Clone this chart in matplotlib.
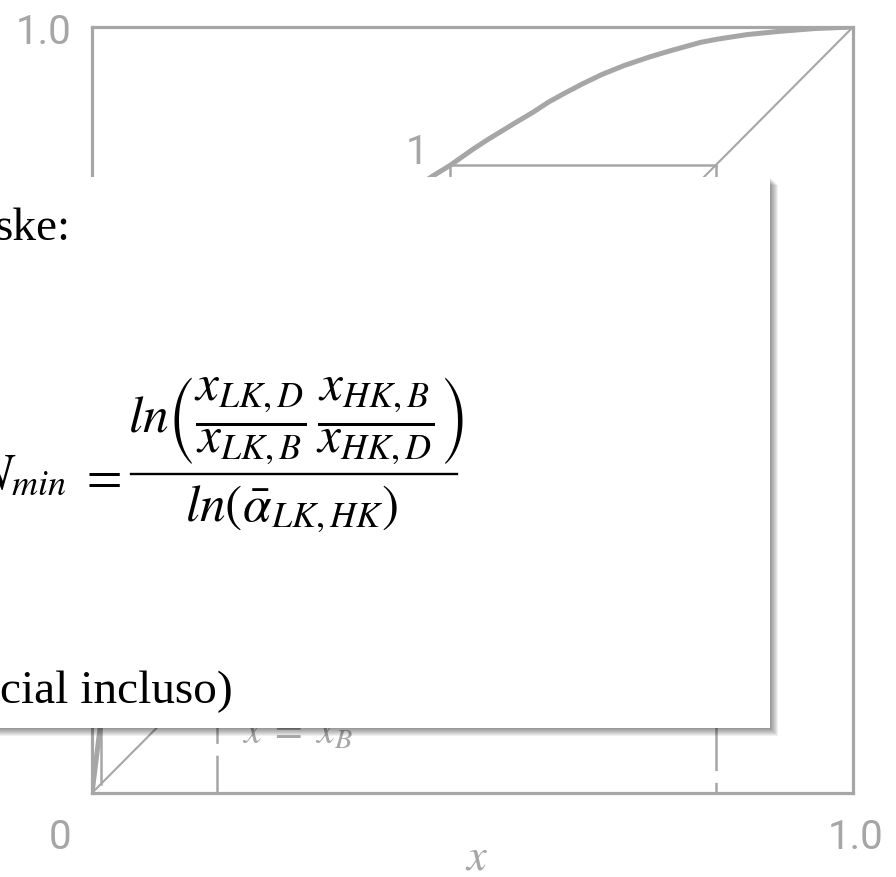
import matplotlib
matplotlib.use("Agg")
import matplotlib.pyplot as plt
from matplotlib.patches import Rectangle
from matplotlib.lines import Line2D
from matplotlib.transforms import ScaledTranslation

# equilibrium curve
eq_x = [0.0, 0.0105, 0.02, 0.035, 0.06, 0.10, 0.16, 0.25, 0.35, 0.447, 0.47,
        0.50, 0.52, 0.558, 0.58, 0.60, 0.62, 0.645, 0.67, 0.70, 0.733, 0.76,
        0.80, 0.821, 0.86, 0.90, 0.95, 1.0]
eq_y = [0.0, 0.084, 0.14, 0.22, 0.33, 0.46, 0.565, 0.66, 0.74, 0.805, 0.819,
        0.84, 0.853, 0.876, 0.889, 0.902, 0.913, 0.926, 0.938, 0.95, 0.961, 0.969,
        0.98, 0.984, 0.99, 0.994, 0.998, 1.0]

# total reflux staircase corners
step_x = [0.82, 0.47, 0.47, 0.10, 0.10, 0.012, 0.012]
step_y = [0.82, 0.82, 0.47, 0.47, 0.10, 0.10, 0.012]

x_D = 0.82
x_B = 0.164
tick_vals = [0.0, 1.0]
tick_labels = ["0", "1.0"]
stage_label = "1"

GRAY = "#a6a6a6"
W, H = 896, 878

plt.rcParams["lines.scale_dashes"] = False
plt.rcParams["mathtext.fontset"] = "stix"

fig = plt.figure(figsize=(W / 100, H / 100), dpi=100)
fig.patch.set_facecolor("white")


def fx(px):
    return px / W


def fy(py):
    return 1 - py / H


ax = fig.add_axes([fx(92), fy(794), fx(853) - fx(92), fy(28) - fy(794)])
ax.set_xlim(0, 1)
ax.set_ylim(0, 1)
for s in ax.spines.values():
    s.set_color(GRAY)
    s.set_linewidth(2.3)

ax.plot([0, 1], [0, 1], color=GRAY, lw=1.5, solid_capstyle="butt")
ax.plot(eq_x, eq_y, color=GRAY, lw=3.6, solid_capstyle="round", solid_joinstyle="round")
ax.plot(step_x, step_y, color=GRAY, lw=1.8)

dash = (0, (55, 8.5))
ax.plot([x_D, x_D], [x_D, 0], color=GRAY, lw=1.8, linestyle=dash)
ax.plot([x_B, x_B], [x_B, 0], color=GRAY, lw=1.8, linestyle=dash)

tick_font = dict(family=["Roboto", "DejaVu Sans"], size=29, color=GRAY)
ax.set_xticks(tick_vals)
ax.set_xticklabels(tick_labels, **tick_font)
ax.set_yticks([tick_vals[1]])
ax.set_yticklabels([tick_labels[1]], **tick_font)
ax.tick_params(length=0, pad=17)
ax.tick_params(axis="y", pad=15)
lab0 = ax.get_xticklabels()[0]
lab0.set_transform(lab0.get_transform() + ScaledTranslation(-32 / 100, 0, fig.dpi_scale_trans))
lab1 = ax.get_xticklabels()[1]
lab1.set_transform(lab1.get_transform() + ScaledTranslation(3 / 100, 0, fig.dpi_scale_trans))

ax.text(0.427, 0.838, stage_label, ha="center", va="center", **tick_font)
ax.text(0.197, 0.066, r"$x\;=\;x_B$", ha="left", va="baseline", fontsize=29, color=GRAY)
fig.text(fx(477), fy(857), r"$x$", ha="center", va="center", fontsize=32, color=GRAY)

# white callout box with soft shadow
bx0, bx1, by0, by1 = -10, 770, 178, 729
for off in range(1, 9):
    fig.patches.append(Rectangle((fx(bx0 + off), fy(by1 + off)),
                                 fx(bx1 - bx0), fy(by0) - fy(by1),
                                 transform=fig.transFigure, facecolor="black",
                                 edgecolor="none", alpha=0.06, zorder=4))
fig.patches.append(Rectangle((fx(bx0), fy(by1)), fx(bx1 - bx0), fy(by0) - fy(by1),
                             transform=fig.transFigure, facecolor="white",
                             edgecolor="none", zorder=5))

serif = ["Liberation Serif", "DejaVu Serif"]
fig.text(fx(70), fy(240), "ske:", ha="right", va="baseline", family=serif,
         fontsize=34, color="black", zorder=6)
fig.text(fx(233), fy(703), "cial incluso)", ha="right", va="baseline", family=serif,
         fontsize=34, color="black", zorder=6)

# Fenske equation, laid out piece by piece
fs = 37
fig.text(fx(66), fy(489), r"$N_{min}$", ha="right", va="baseline", fontsize=fs,
         color="black", zorder=6)
fig.text(fx(100), fy(477), r"$=$", ha="center", va="center", fontsize=fs,
         color="black", zorder=6)
numer = r"$ln\left(\dfrac{x_{LK,D}}{x_{LK,B}}\,\dfrac{x_{HK,B}}{x_{HK,D}}\right)$"
denom = r"$ln\left(\bar{\alpha}_{LK,HK}\right)$"
fig.text(fx(296), fy(467), numer, ha="center", va="bottom", fontsize=fs,
         color="black", zorder=6)
fig.text(fx(292), fy(483), denom, ha="center", va="top", fontsize=fs,
         color="black", zorder=6)
fig.lines.append(Line2D([fx(131), fx(457)], [fy(475), fy(475)], transform=fig.transFigure,
                        color="black", lw=1.7, zorder=6))

fig.savefig("out.png", dpi=100, facecolor="white")
